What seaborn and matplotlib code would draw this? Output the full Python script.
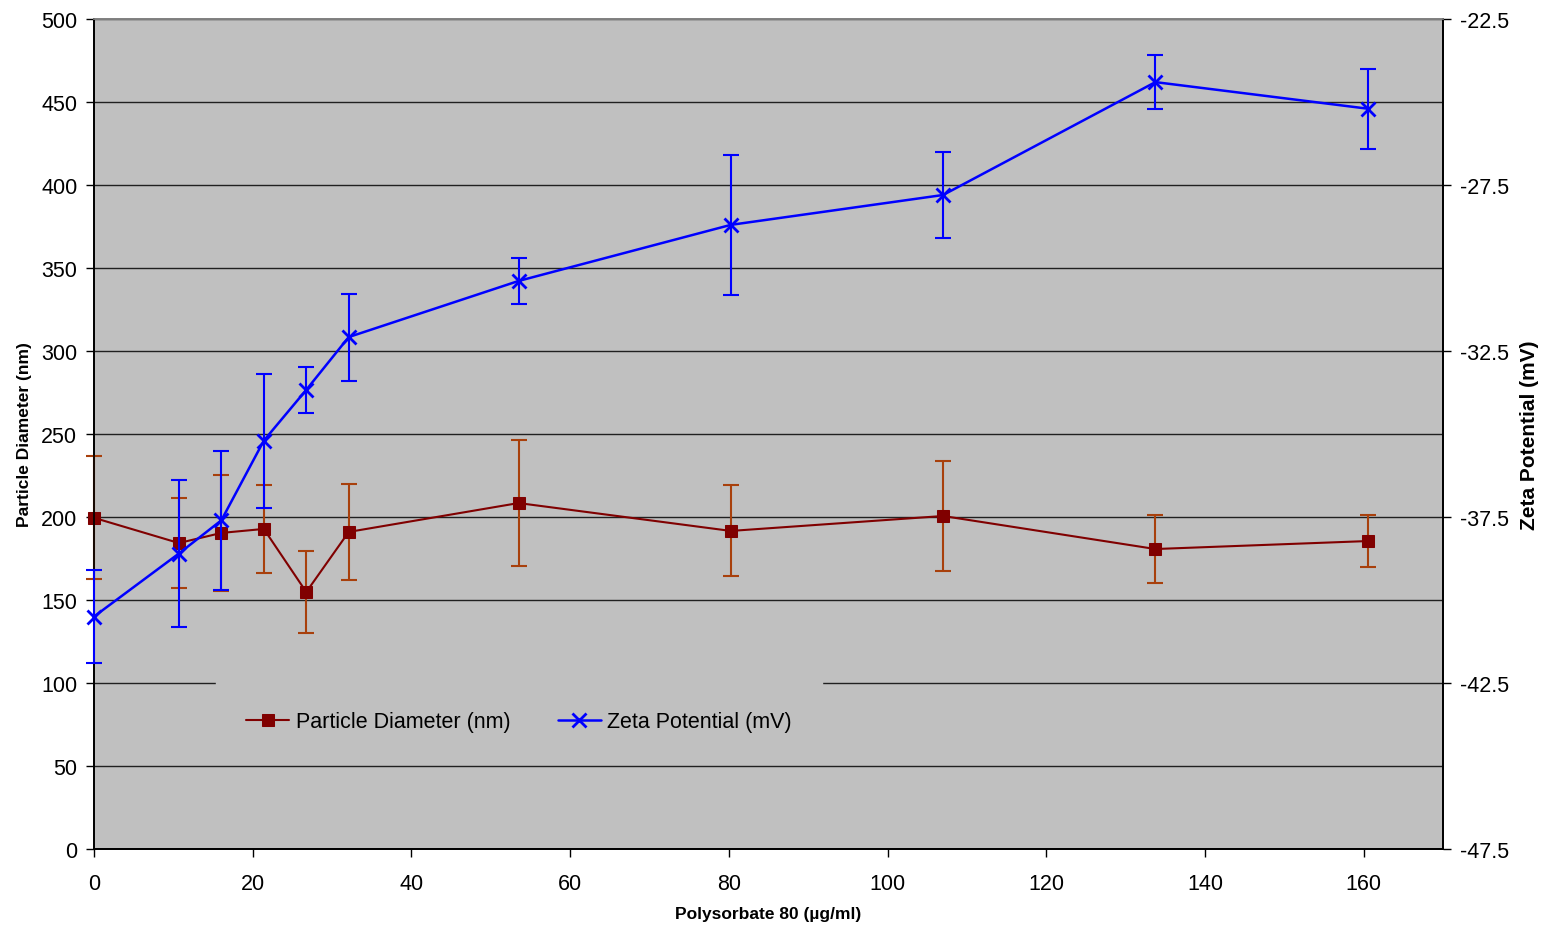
import numpy as np
import pandas as pd
import matplotlib
matplotlib.use("Agg")
import matplotlib.pyplot as plt
import seaborn as sns

# ---------------- data ----------------
polysorbate = [0, 10.7, 16.05, 21.4, 26.75, 32.1, 53.5, 80.25, 107.0, 133.75, 160.5]
diameter = [199.5, 184.3, 190.4, 192.8, 154.8, 191.0, 208.4, 191.6, 200.6, 180.7, 185.5]
diameter_err = [37.0, 27.0, 35.0, 26.6, 24.6, 28.7, 38.0, 27.4, 33.4, 20.5, 15.6]
zeta = [-40.5, -38.6, -37.6, -35.2, -33.67, -32.08, -30.39, -28.7, -27.8, -24.4, -25.2]
zeta_err = [1.39, 2.2, 2.1, 2.02, 0.69, 1.31, 0.69, 2.1, 1.3, 0.81, 1.2]

df = pd.DataFrame({"x": polysorbate, "d": diameter, "z": zeta})

sns.set_theme(style="white", rc={"text.color": "black", "axes.labelcolor": "black",
                                 "xtick.color": "black", "ytick.color": "black"})
plt.rcParams["font.family"] = ["Liberation Sans", "DejaVu Sans"]

bg = "#C0C0C0"
red = "#800000"
red_err = "#A8400C"
blue = "#0000FF"

fig = plt.figure(figsize=(15.46, 9.28), dpi=100)
ax = fig.add_axes([0.0608, 0.0841, 0.8726, 0.8943])
ax.set_facecolor(bg)
ax2 = ax.twinx()

# particle diameter (left axis)
ax.errorbar(polysorbate, diameter, yerr=diameter_err, fmt="none",
            ecolor=red_err, elinewidth=1.5, capsize=5.5, capthick=1.5, zorder=3,
            clip_on=False)
sns.lineplot(data=df, x="x", y="d", ax=ax, color=red, lw=1.5, marker="s",
             markersize=9, markeredgecolor=red, label="Particle Diameter (nm)",
             legend=False, zorder=4, clip_on=False)

# zeta potential (right axis)
ax2.errorbar(polysorbate, zeta, yerr=zeta_err, fmt="none",
             ecolor=blue, elinewidth=1.5, capsize=5.5, capthick=1.5, zorder=3,
             clip_on=False)
sns.lineplot(data=df, x="x", y="z", ax=ax2, color=blue, lw=1.8, marker="x",
             markersize=10, markeredgewidth=2, markeredgecolor=blue,
             label="Zeta Potential (mV)", legend=False, zorder=4, clip_on=False)

ax.set_xlim(0, 170)
ax.set_ylim(0, 500)
ax2.set_ylim(-47.5, -22.5)
ax.set_xticks(np.arange(0, 161, 20))
ax.set_yticks(np.arange(0, 501, 50))
ax2.set_yticks(np.arange(-47.5, -22.4, 5))
ax2.set_yticklabels([f"{v:.1f}" for v in np.arange(-47.5, -22.4, 5)])

ax.grid(axis="y", color="#202020", lw=1)
ax.set_axisbelow(True)

for a in (ax, ax2):
    a.tick_params(axis="both", labelsize=15.5, length=6, width=1,
                  direction="out", color="black", labelcolor="black", pad=6)
    for s in a.spines.values():
        s.set_color("black")
    a.spines["top"].set_color("#808080")
ax.tick_params(axis="x", pad=11)
ax.tick_params(left=True, bottom=True)
ax2.tick_params(right=True)

ax.set_xlabel("Polysorbate 80 (µg/ml)", fontsize=12.5, fontweight="bold")
ax.set_ylabel("Particle Diameter (nm)", fontsize=12.5, fontweight="bold")
ax2.set_ylabel("Zeta Potential (mV)", fontsize=15, fontweight="bold")
ax.xaxis.set_label_coords(0.5, -0.0687)
ax.yaxis.set_label_coords(-0.046, 0.5)
ax2.yaxis.set_label_coords(1.057, 0.5)

h1, l1 = ax.get_legend_handles_labels()
h2, l2 = ax2.get_legend_handles_labels()
leg = ax2.legend(h1 + h2, l1 + l2, loc="center", bbox_to_anchor=(0.3150, 0.153),
                 ncol=2, fontsize=15.5, frameon=True, facecolor=bg, edgecolor=bg,
                 framealpha=1, fancybox=False, handlelength=2.0, columnspacing=2.2,
                 borderpad=1.4, handletextpad=0.3, borderaxespad=0)

fig.savefig("out.png", dpi=100)
